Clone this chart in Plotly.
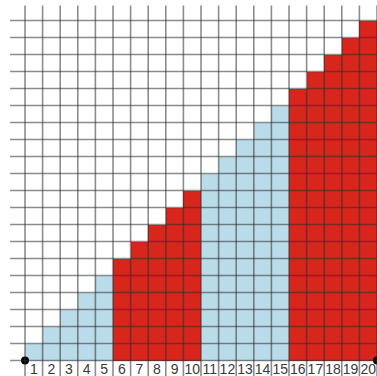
import plotly.graph_objects as go

# Column numbers, stack heights (number of unit squares) and fill colours
columns = list(range(1, 21))
heights = [1, 2, 3, 4, 5, 6, 7, 8, 9, 10, 11, 12, 13, 14, 15, 16, 17, 18, 19, 20]
groups = ["blue"] * 5 + ["red"] * 5 + ["blue"] * 5 + ["red"] * 5
tick_labels = [str(c) for c in columns]

palette = {"blue": "#badbea", "red": "#d8261c"}
bar_colors = [palette[g] for g in groups]

X_MIN, X_MAX = -0.92, 20.5
Y_MIN, Y_MAX = -0.91, 21.21
GRID_COLOR = "rgba(45,45,45,0.55)"
GRID_WIDTH = 1.6

fig = go.Figure()

fig.add_trace(go.Bar(
    x=columns,
    y=heights,
    width=1,
    marker=dict(color=bar_colors, line=dict(width=0)),
    hoverinfo="skip",
    showlegend=False,
))

# Column numbers written inside the strip below the baseline
fig.add_trace(go.Scatter(
    x=columns,
    y=[-0.56] * len(columns),
    mode="text",
    text=tick_labels,
    textfont=dict(family="Liberation Sans, Arial, sans-serif", size=14, color="#3a3a3a"),
    hoverinfo="skip",
    showlegend=False,
))

# End points of the baseline
fig.add_trace(go.Scatter(
    x=[columns[0] - 0.5, columns[-1] + 0.5],
    y=[0, 0],
    mode="markers",
    marker=dict(color="black", size=8),
    hoverinfo="skip",
    showlegend=False,
    cliponaxis=False,
))

# Square grid drawn over the bars
shapes = []
n_rows = max(heights)
for k in range(len(columns) + 1):
    xv = columns[0] - 0.5 + k
    shapes.append(dict(type="line", xref="x", yref="y", layer="above",
                       x0=xv, x1=xv, y0=Y_MIN, y1=n_rows + 0.88,
                       line=dict(color=GRID_COLOR, width=GRID_WIDTH)))
for r in range(n_rows + 1):
    shapes.append(dict(type="line", xref="x", yref="y", layer="above",
                       x0=-0.35, x1=columns[-1] + 0.5, y0=r, y1=r,
                       line=dict(color=GRID_COLOR, width=GRID_WIDTH)))

fig.update_layout(
    width=377,
    height=376,
    margin=dict(l=0, r=0, t=0, b=0),
    paper_bgcolor="white",
    plot_bgcolor="white",
    bargap=0,
    shapes=shapes,
    xaxis=dict(range=[X_MIN, X_MAX], showgrid=False, zeroline=False,
               showticklabels=False, showline=False, fixedrange=True),
    yaxis=dict(range=[Y_MIN, Y_MAX], showgrid=False, zeroline=False,
               showticklabels=False, showline=False, fixedrange=True),
)

fig.write_html("out.html")
